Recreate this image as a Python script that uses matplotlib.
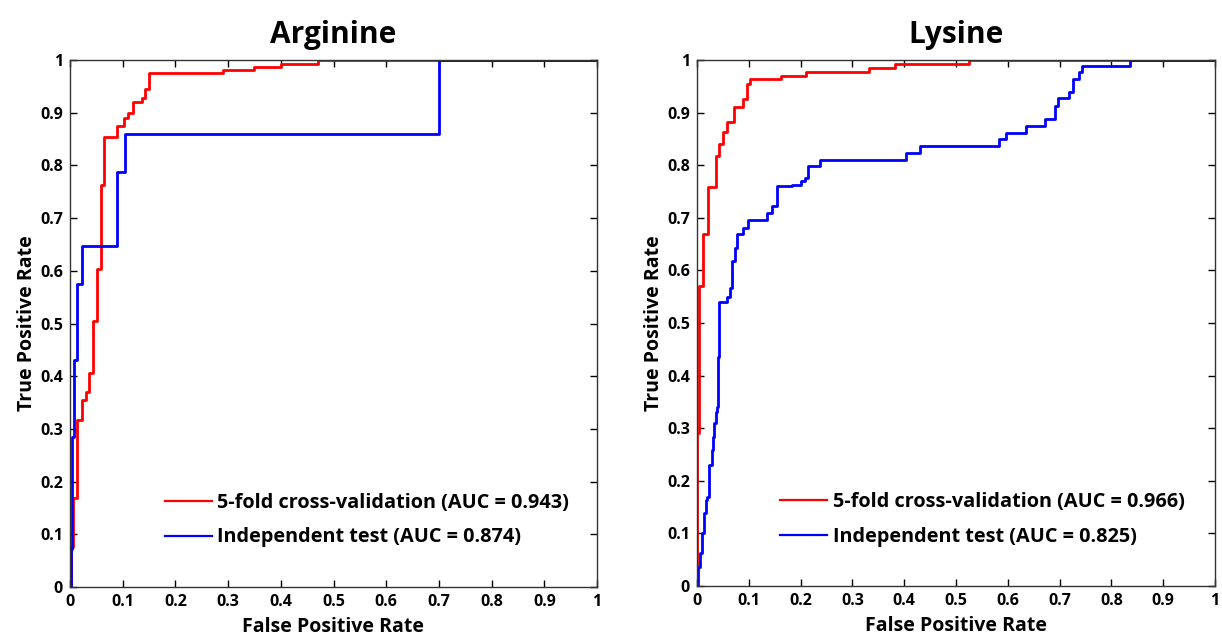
import matplotlib
matplotlib.use("Agg")
import matplotlib.pyplot as plt

plt.rcParams['font.family'] = ['Open Sans', 'DejaVu Sans']
plt.rcParams['font.weight'] = 'bold'

titles = ["Arginine", "Lysine"]
tick_vals = [0, 0.1, 0.2, 0.3, 0.4, 0.5, 0.6, 0.7, 0.8, 0.9, 1]
tick_labels = ["0", "0.1", "0.2", "0.3", "0.4", "0.5", "0.6", "0.7", "0.8", "0.9", "1"]

# Arginine: (fpr at which TPR jumps, new TPR)
arg_cv_fpr = [0, 0.002, 0.006, 0.013, 0.022, 0.030, 0.037, 0.043, 0.052, 0.059, 0.065,
              0.090, 0.103, 0.110, 0.120, 0.136, 0.142, 0.150, 0.290, 0.350, 0.400, 0.470, 1.0]
arg_cv_tpr = [0, 0.076, 0.169, 0.317, 0.354, 0.370, 0.407, 0.505, 0.603, 0.763, 0.853,
              0.875, 0.890, 0.900, 0.920, 0.928, 0.945, 0.975, 0.981, 0.987, 0.992, 1.0, 1.0]
arg_ind_fpr = [0, 0.001, 0.003, 0.008, 0.013, 0.022, 0.090, 0.104, 0.700, 1.0]
arg_ind_tpr = [0, 0.072, 0.285, 0.430, 0.575, 0.647, 0.787, 0.859, 1.0, 1.0]

# Lysine
lys_cv_fpr = [0, 0.0, 0.004, 0.011, 0.022, 0.036, 0.042, 0.050, 0.058, 0.072, 0.088,
              0.096, 0.103, 0.163, 0.210, 0.332, 0.383, 0.526, 1.0]
lys_cv_tpr = [0, 0.290, 0.570, 0.669, 0.759, 0.817, 0.840, 0.864, 0.882, 0.911, 0.926,
              0.954, 0.963, 0.970, 0.977, 0.985, 0.992, 1.0, 1.0]
lys_ind_fpr = [0, 0.0025, 0.006, 0.010, 0.013, 0.017, 0.020, 0.023, 0.028, 0.031, 0.033,
               0.036, 0.039, 0.040, 0.042, 0.058, 0.063, 0.068, 0.074, 0.077, 0.088, 0.098,
               0.135, 0.145, 0.154, 0.183, 0.200, 0.209, 0.215, 0.237, 0.404, 0.431, 0.583,
               0.596, 0.636, 0.671, 0.691, 0.697, 0.718, 0.726, 0.738, 0.743, 0.836, 1.0]
lys_ind_tpr = [0, 0.037, 0.062, 0.100, 0.138, 0.163, 0.170, 0.230, 0.259, 0.284, 0.309,
               0.331, 0.341, 0.436, 0.540, 0.550, 0.567, 0.617, 0.643, 0.669, 0.681, 0.696,
               0.709, 0.723, 0.760, 0.762, 0.770, 0.775, 0.798, 0.810, 0.824, 0.836, 0.850,
               0.862, 0.875, 0.888, 0.913, 0.927, 0.940, 0.964, 0.977, 0.989, 1.0, 1.0]

cv_labels = ["5-fold cross-validation (AUC = 0.943)", "5-fold cross-validation (AUC = 0.966)"]
ind_labels = ["Independent test (AUC = 0.874)", "Independent test (AUC = 0.825)"]

W, H = 1222, 635
fig = plt.figure(figsize=(W / 100, H / 100), dpi=100)
rects = [(70, 60, 597, 587), (697, 60, 1215, 586)]
data = [(arg_cv_fpr, arg_cv_tpr, arg_ind_fpr, arg_ind_tpr),
        (lys_cv_fpr, lys_cv_tpr, lys_ind_fpr, lys_ind_tpr)]
leg_anchor = [(0.18, 0.075), (0.16, 0.075)]

for i in range(2):
    l, t, r, b = rects[i]
    ax = fig.add_axes([l / W, 1 - b / H, (r - l) / W, (b - t) / H])
    cf, ct, inf_, it = data[i]
    ax.plot(cf, ct, color='#ff0000', lw=2, drawstyle='steps-post', label=cv_labels[i])
    ax.plot(inf_, it, color='#0000ff', lw=2, drawstyle='steps-post', label=ind_labels[i])
    ax.set_xlim(0, 1)
    ax.set_ylim(0, 1)
    ax.set_xticks(tick_vals)
    ax.set_xticklabels(tick_labels)
    ax.set_yticks(tick_vals)
    ax.set_yticklabels(tick_labels)
    ax.tick_params(direction='in', top=True, right=True, length=5, width=1,
                   labelsize=11.5, pad=5)
    for lab in ax.get_xticklabels() + ax.get_yticklabels():
        lab.set_fontweight('bold')
    for s in ax.spines.values():
        s.set_color('#333333')
        s.set_linewidth(1)
    ax.set_title(titles[i], fontsize=21.5, fontweight='bold', pad=12)
    ax.set_xlabel("False Positive Rate", fontsize=14, fontweight='bold', labelpad=5)
    ax.set_ylabel("True Positive Rate", fontsize=14, fontweight='bold', labelpad=2)
    leg = ax.legend(loc='lower left', bbox_to_anchor=leg_anchor[i], frameon=False,
                    prop={'size': 14.3, 'weight': 'bold'}, handlelength=2.35,
                    handletextpad=0.3, labelspacing=0.72, borderaxespad=0,
                    borderpad=0)
    for h in leg.get_lines():
        h.set_linewidth(1.6)

fig.savefig("out.png", dpi=100)
